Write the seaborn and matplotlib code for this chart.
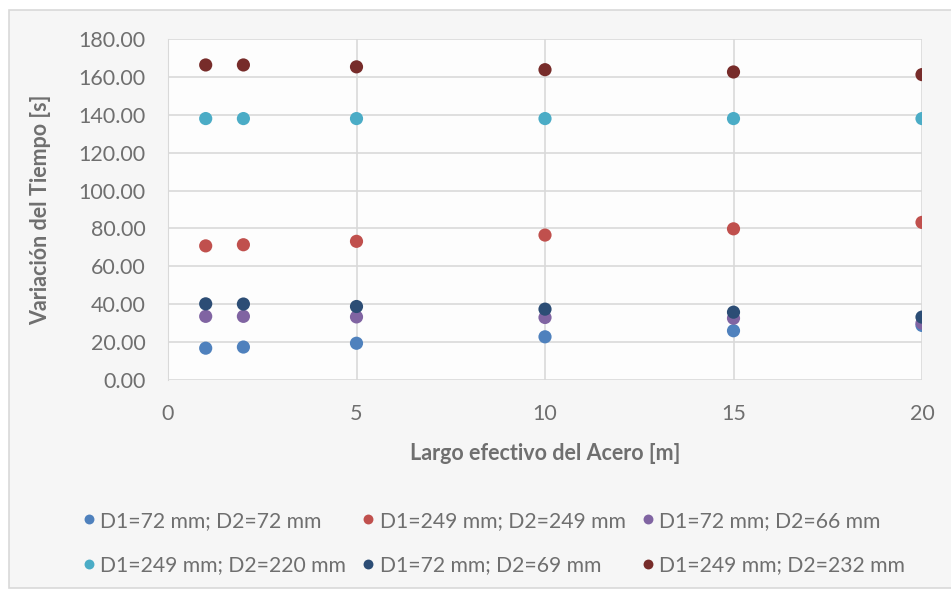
import matplotlib
matplotlib.use("Agg")
import matplotlib.pyplot as plt
import seaborn as sns
import pandas as pd
from matplotlib.patches import Rectangle

# datos
largo = [1, 2, 5, 10, 15, 20]
series = [
    "D1=72 mm; D2=72 mm",
    "D1=249 mm; D2=249 mm",
    "D1=72 mm; D2=66 mm",
    "D1=249 mm; D2=220 mm",
    "D1=72 mm; D2=69 mm",
    "D1=249 mm; D2=232 mm",
]
d72_72 = [16.8, 17.4, 19.4, 22.8, 26.0, 28.8]
d249_249 = [70.8, 71.4, 73.2, 76.5, 79.8, 83.2]
d72_66 = [33.6, 33.6, 33.3, 33.0, 32.6, 30.0]
d249_220 = [138.0, 138.0, 138.0, 138.0, 138.0, 138.0]
d72_69 = [40.2, 40.1, 38.8, 37.4, 35.8, 33.2]
d249_232 = [166.3, 166.3, 165.3, 163.8, 162.6, 161.2]
colores = ["#4f81bd", "#c0504d", "#8064a2", "#4bacc6", "#2c4d75", "#772c2a"]

valores = [d72_72, d249_249, d72_66, d249_220, d72_69, d249_232]
df = pd.DataFrame({
    "x": largo * len(series),
    "y": [v for vals in valores for v in vals],
    "serie": [s for s in series for _ in largo],
})

sns.set_style("whitegrid")
plt.rcParams["font.family"] = ["Lato", "DejaVu Sans"]
gris = "#6f6f6f"

fig = plt.figure(figsize=(9.51, 5.89), dpi=100)
fig.patch.set_facecolor("white")
# marco del area del grafico (estilo Excel)
fig.patches.append(Rectangle((9 / 951, 0.002), 1.0, 1 - 10 / 589 - 0.002, transform=fig.transFigure,
                             facecolor="#f6f6f6", edgecolor="#d9d9d9", linewidth=1.2, zorder=-10))

ax = fig.add_axes([168 / 951, 1 - 380 / 589, (922 - 168) / 951, (380 - 39) / 589])
ax.set_facecolor("#fdfdfd")
sns.scatterplot(data=df, x="x", y="y", hue="serie", hue_order=series, palette=colores,
                s=90, edgecolor="none", ax=ax, legend=True, zorder=3)

ax.set_xlim(0, 20)
ax.set_ylim(0, 180)
ax.set_xticks([0, 5, 10, 15, 20])
ax.set_yticks(range(0, 181, 20))
ax.set_yticklabels([f"{v:.2f}" for v in range(0, 181, 20)])
ax.grid(True, color="#d9d9d9", linewidth=1.2)
for sp in ax.spines.values():
    sp.set_visible(False)
ax.spines["left"].set_visible(True)
ax.spines["left"].set_color("#d9d9d9")
ax.tick_params(axis="both", colors=gris, labelsize=15.5, length=0)
ax.tick_params(axis="y", pad=16)
ax.tick_params(axis="x", pad=17)
ax.set_xlabel("Largo efectivo del Acero [m]", fontsize=15.5, fontweight="bold", color=gris, labelpad=14)
ax.set_ylabel("Variación del Tiempo [s]", fontsize=15.5, fontweight="bold", color=gris, labelpad=20)

# leyenda por filas como en Excel
handles, labels = ax.get_legend_handles_labels()
orden = [0, 3, 1, 4, 2, 5]
ax.legend([handles[i] for i in orden], [labels[i] for i in orden], loc="center",
          bbox_to_anchor=(0.43, -0.478), ncol=3, frameon=False,
          fontsize=15.2, labelcolor=gris, handletextpad=0.1, columnspacing=0.6,
          markerscale=0.75, handlelength=0.9, labelspacing=1.15)

fig.savefig("out.png", dpi=100)
